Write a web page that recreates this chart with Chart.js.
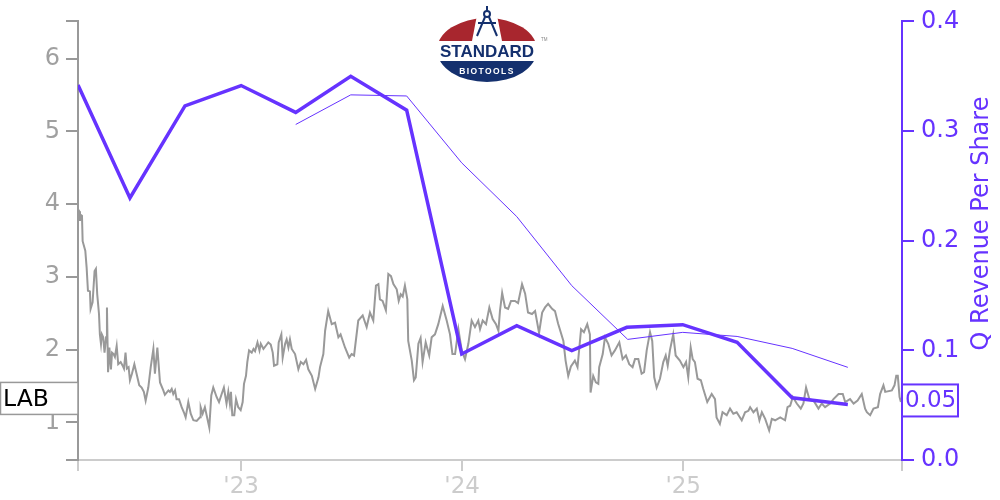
<!DOCTYPE html>
<html>
<head>
<meta charset="utf-8">
<title>LAB Q Revenue Per Share</title>
<script src="https://cdn.jsdelivr.net/npm/chart.js@4/dist/chart.umd.min.js"></script>
<style>
    html, body { margin: 0; padding: 0; background: #fff; }
    #wrap { position: relative; width: 1000px; height: 500px; overflow: hidden; }
    #logo { position: absolute; left: 0; top: 0; }
</style>
</head>
<body>
<div id="wrap">
    <canvas id="chart" width="1000" height="500"></canvas>
    <svg id="logo" width="1000" height="100" xmlns="http://www.w3.org/2000/svg">
        <defs>
            <clipPath id="topHalf"><rect x="430" y="0" width="120" height="41"/></clipPath>
            <clipPath id="bottomHalf"><rect x="430" y="61" width="120" height="30"/></clipPath>
        </defs>
        <ellipse cx="487" cy="50" rx="50" ry="32" fill="#a8262e" clip-path="url(#topHalf)"/>
        <ellipse cx="487" cy="50" rx="50" ry="32" fill="#14306e" clip-path="url(#bottomHalf)"/>
        <polygon points="477,15 472,41 502,41 497,15" fill="#fff"/>
        <g stroke="#14306e" stroke-width="2" fill="none">
            <line x1="487" y1="6" x2="487" y2="11"/>
            <circle cx="487" cy="14" r="3"/>
            <line x1="485" y1="17" x2="477" y2="36"/>
            <line x1="489" y1="17" x2="497" y2="36"/>
            <line x1="478" y1="23" x2="496" y2="23"/>
        </g>
        <text x="487" y="57" text-anchor="middle" font-family="Liberation Sans" font-weight="bold" font-size="17" fill="#14306e">STANDARD</text>
        <text x="487" y="74" text-anchor="middle" font-family="Liberation Sans" font-weight="bold" font-size="8.5" letter-spacing="1.4" fill="#fff">BIOTOOLS</text>
        <text x="541" y="41" font-family="Liberation Sans" font-size="4.5" fill="#888">TM</text>
    </svg>
</div>
<script>
// --- Data ---
const revenueYears = [2022.267, 2022.502, 2022.751, 2023.005, 2023.252, 2023.501, 2023.754, 2024.003, 2024.252, 2024.501, 2024.750, 2025.003, 2025.249, 2025.498, 2025.750];
const revenueValues = [0.342, 0.239, 0.323, 0.3415, 0.317, 0.350, 0.319, 0.0967, 0.1225, 0.0997, 0.121, 0.1234, 0.1073, 0.0567, 0.0506];

const estimateYears = [2023.252, 2023.501, 2023.754, 2024.003, 2024.252, 2024.501, 2024.754, 2025.003, 2025.249, 2025.498, 2025.750];
const estimateValues = [0.306, 0.333, 0.332, 0.271, 0.222, 0.159, 0.110, 0.1164, 0.1127, 0.1018, 0.0845];

const priceYears = [
    2022.267, 2022.273, 2022.276, 2022.280, 2022.285, 2022.288, 2022.300, 2022.306, 2022.312, 2022.321,
    2022.324, 2022.333, 2022.342, 2022.348, 2022.354, 2022.362, 2022.366, 2022.371, 2022.375, 2022.381,
    2022.387, 2022.394, 2022.398, 2022.403, 2022.409, 2022.416, 2022.421, 2022.428, 2022.434, 2022.442,
    2022.449, 2022.460, 2022.469, 2022.475, 2022.482, 2022.488, 2022.496, 2022.502, 2022.511, 2022.522,
    2022.532, 2022.544, 2022.555, 2022.565, 2022.573, 2022.585, 2022.596, 2022.608, 2022.615, 2022.626,
    2022.638, 2022.653, 2022.660, 2022.676, 2022.683, 2022.691, 2022.698, 2022.706, 2022.713, 2022.724,
    2022.736, 2022.746, 2022.754, 2022.766, 2022.777, 2022.789, 2022.804, 2022.819, 2022.822, 2022.831,
    2022.841, 2022.861, 2022.870, 2022.879, 2022.894, 2022.905, 2022.917, 2022.927, 2022.939, 2022.947,
    2022.954, 2022.959, 2022.965, 2022.974, 2022.982, 2022.992, 2023.003, 2023.012, 2023.018, 2023.027,
    2023.033, 2023.041, 2023.053, 2023.061, 2023.068, 2023.079, 2023.088, 2023.094, 2023.106, 2023.116,
    2023.128, 2023.139, 2023.148, 2023.154, 2023.169, 2023.175, 2023.187, 2023.193, 2023.204, 2023.211,
    2023.219, 2023.226, 2023.234, 2023.249, 2023.264, 2023.275, 2023.287, 2023.299, 2023.309, 2023.325,
    2023.340, 2023.355, 2023.362, 2023.377, 2023.385, 2023.399, 2023.415, 2023.430, 2023.445, 2023.455,
    2023.475, 2023.494, 2023.505, 2023.516, 2023.535, 2023.555, 2023.573, 2023.588, 2023.603, 2023.615,
    2023.626, 2023.633, 2023.645, 2023.660, 2023.671, 2023.683, 2023.694, 2023.709, 2023.718, 2023.727,
    2023.736, 2023.746, 2023.757, 2023.761, 2023.777, 2023.787, 2023.795, 2023.807, 2023.817, 2023.826,
    2023.840, 2023.856, 2023.867, 2023.882, 2023.897, 2023.917, 2023.935, 2023.950, 2023.961, 2023.973,
    2023.988, 2024.003, 2024.018, 2024.033, 2024.048, 2024.063, 2024.078, 2024.086, 2024.098, 2024.113,
    2024.128, 2024.143, 2024.158, 2024.169, 2024.176, 2024.186, 2024.199, 2024.213, 2024.226, 2024.244,
    2024.258, 2024.276, 2024.290, 2024.303, 2024.321, 2024.335, 2024.353, 2024.367, 2024.380, 2024.394,
    2024.412, 2024.425, 2024.439, 2024.463, 2024.473, 2024.485, 2024.497, 2024.515, 2024.527, 2024.543,
    2024.556, 2024.571, 2024.583, 2024.586, 2024.598, 2024.610, 2024.621, 2024.625, 2024.641, 2024.651,
    2024.666, 2024.681, 2024.696, 2024.716, 2024.731, 2024.746, 2024.761, 2024.776, 2024.787, 2024.802,
    2024.817, 2024.828, 2024.840, 2024.855, 2024.865, 2024.874, 2024.885, 2024.900, 2024.915, 2024.926,
    2024.935, 2024.945, 2024.960, 2024.971, 2024.990, 2025.006, 2025.018, 2025.028, 2025.039, 2025.048,
    2025.058, 2025.070, 2025.085, 2025.096, 2025.114, 2025.134, 2025.149, 2025.156, 2025.171, 2025.183,
    2025.202, 2025.217, 2025.232, 2025.247, 2025.270, 2025.285, 2025.300, 2025.308, 2025.323, 2025.338,
    2025.350, 2025.361, 2025.376, 2025.394, 2025.406, 2025.421, 2025.444, 2025.466, 2025.477, 2025.489,
    2025.501, 2025.519, 2025.537, 2025.549, 2025.561, 2025.576, 2025.595, 2025.617, 2025.632, 2025.647,
    2025.670, 2025.685, 2025.708, 2025.727, 2025.738, 2025.760, 2025.776, 2025.794, 2025.813, 2025.828,
    2025.836, 2025.851, 2025.866, 2025.886, 2025.896, 2025.911, 2025.919, 2025.949, 2025.961, 2025.969,
    2025.976, 2025.984, 2025.990
];
const priceValues = [
    3.93, 3.90, 3.77, 3.85, 3.84, 3.49, 3.36, 3.13, 2.81, 2.80,
    2.56, 2.65, 3.08, 3.11, 2.76, 2.49, 2.21, 2.08, 2.21, 2.17,
    1.96, 2.17, 2.58, 1.69, 2.03, 1.73, 1.96, 1.94, 1.90, 2.05,
    1.80, 1.83, 1.78, 1.74, 1.96, 1.74, 1.76, 1.58, 1.67, 1.80,
    1.67, 1.51, 1.48, 1.42, 1.30, 1.48, 1.76, 2.01, 1.67, 2.03,
    1.55, 1.44, 1.38, 1.44, 1.42, 1.46, 1.39, 1.44, 1.32, 1.32,
    1.21, 1.14, 1.07, 1.28, 1.12, 1.03, 1.02, 1.07, 1.21, 1.12,
    1.21, 0.93, 1.37, 1.48, 1.35, 1.28, 1.39, 1.48, 1.26, 1.42,
    1.26, 1.42, 1.10, 1.10, 1.32, 1.21, 1.17, 1.28, 1.53, 1.64,
    1.83, 1.99, 1.96, 2.01, 1.98, 2.10, 1.99, 2.08, 2.01, 2.05,
    2.10, 2.07, 1.96, 1.78, 1.80, 2.10, 2.21, 1.89, 2.08, 2.14,
    2.03, 2.14, 2.01, 1.94, 1.73, 1.83, 1.80, 1.86, 1.73, 1.64,
    1.46, 1.62, 1.76, 1.94, 2.26, 2.53, 2.35, 2.37, 2.17, 2.21,
    2.03, 1.89, 1.94, 1.92, 2.40, 2.47, 2.31, 2.51, 2.40, 2.88,
    2.90, 2.69, 2.67, 2.54, 3.04, 3.01, 2.90, 2.83, 2.67, 2.76,
    2.73, 2.88, 2.69, 2.12, 1.85, 1.58, 1.62, 2.08, 2.16, 1.83,
    2.10, 1.92, 2.17, 2.21, 2.35, 2.60, 2.40, 2.21, 1.94, 1.94,
    2.28, 1.99, 1.87, 2.08, 2.40, 2.31, 2.40, 2.28, 2.40, 2.35,
    2.58, 2.42, 2.35, 2.26, 2.53, 2.78, 2.58, 2.56, 2.67, 2.67,
    2.64, 2.90, 2.77, 2.51, 2.49, 2.53, 2.23, 2.51, 2.58, 2.63,
    2.56, 2.53, 2.36, 2.12, 1.85, 1.64, 1.77, 1.85, 1.76, 2.28,
    2.24, 2.35, 2.21, 1.41, 1.64, 1.55, 1.53, 1.76, 1.94, 2.17,
    2.08, 1.92, 1.99, 2.10, 1.87, 1.92, 1.80, 1.76, 1.87, 1.87,
    1.67, 1.69, 1.99, 2.24, 2.12, 1.62, 1.48, 1.60, 1.83, 1.92,
    1.78, 1.99, 2.21, 1.92, 1.85, 1.76, 1.83, 1.62, 2.03, 1.87,
    1.83, 1.60, 1.58, 1.46, 1.28, 1.39, 1.32, 1.07, 0.98, 1.14,
    1.10, 1.19, 1.12, 1.14, 1.03, 1.14, 1.16, 1.21, 1.14, 1.19,
    1.03, 1.14, 1.05, 0.89, 1.05, 1.03, 1.07, 1.03, 1.21, 1.23,
    1.35, 1.26, 1.19, 1.26, 1.48, 1.32, 1.30, 1.19, 1.26, 1.21,
    1.26, 1.32, 1.39, 1.39, 1.28, 1.32, 1.26, 1.30, 1.39, 1.19,
    1.14, 1.10, 1.19, 1.21, 1.39, 1.51, 1.42, 1.44, 1.51, 1.64,
    1.64, 1.35, 1.28
];

const priceTicks = [0.484, 1, 2, 3, 4, 5, 6, 6.51];
const priceTickLabels = ['', '1', '2', '3', '4', '5', '6', ''];
const yearTicks = [2022.267, 2023.005, 2024.005, 2025.005, 2025.995];
const yearTickLabels = ['', "'23", "'24", "'25", ''];

const ticker = 'LAB';
const tickerLevel = 1.33;
const lastRevenueText = '0.05';
const lastRevenueLevel = 0.0543;
const rightTitle = 'Q Revenue Per Share';

const PURPLE = '#6633ff';
const FONT = '"DejaVu Sans"';

function pairs(xs, ys) {
    return xs.map((x, i) => ({ x: x, y: ys[i] }));
}

// Fixes a scale's thickness so the plot area lands where it should
function fixWidth(px) {
    return scale => { scale.width = px; };
}

// Boxed labels and the rotated right title
const annotations = {
    id: 'annotations',
    afterDraw(chart) {
        const ctx = chart.ctx;
        const left = chart.scales.price;
        const right = chart.scales.revenue;
        const area = chart.chartArea;

        // ticker box
        const y1 = left.getPixelForValue(tickerLevel);
        ctx.save();
        ctx.fillStyle = '#fff';
        ctx.strokeStyle = '#999';
        ctx.lineWidth = 1.5;
        ctx.fillRect(0.5, y1 - 16, area.left - 0.5, 32);
        ctx.strokeRect(0.5, y1 - 16, area.left - 0.5, 32);
        ctx.fillStyle = '#000';
        ctx.font = '23.5px ' + FONT;
        ctx.textAlign = 'left';
        ctx.textBaseline = 'middle';
        ctx.fillText(ticker, 3, y1 + 1);

        // last value box
        const y2 = right.getPixelForValue(lastRevenueLevel);
        ctx.fillStyle = '#fff';
        ctx.strokeStyle = PURPLE;
        ctx.lineWidth = 2;
        ctx.fillRect(area.right, y2 - 16, 56, 32);
        ctx.strokeRect(area.right, y2 - 16, 56, 32);
        ctx.fillStyle = PURPLE;
        ctx.font = '23px ' + FONT;
        ctx.fillText(lastRevenueText, area.right + 3, y2 + 1);

        // right axis title, reads bottom to top
        ctx.translate(982, 223.5);
        ctx.rotate(-Math.PI / 2);
        ctx.textAlign = 'center';
        ctx.font = '24px ' + FONT;
        ctx.fillText(rightTitle, 0, 0);
        ctx.restore();
    }
};

new Chart(document.getElementById('chart').getContext('2d'), {
    type: 'line',
    data: {
        datasets: [
            {
                data: pairs(revenueYears, revenueValues),
                yAxisID: 'revenue',
                borderColor: PURPLE,
                borderWidth: 3.5,
                pointRadius: 0,
                tension: 0,
                order: 1
            },
            {
                data: pairs(estimateYears, estimateValues),
                yAxisID: 'revenue',
                borderColor: PURPLE,
                borderWidth: 1,
                pointRadius: 0,
                tension: 0,
                order: 2
            },
            {
                data: pairs(priceYears, priceValues),
                yAxisID: 'price',
                borderColor: '#999',
                borderWidth: 2,
                pointRadius: 0,
                tension: 0,
                order: 3
            }
        ]
    },
    options: {
        responsive: false,
        animation: false,
        layout: { padding: { top: 20 } },
        plugins: {
            legend: { display: false },
            tooltip: { enabled: false }
        },
        scales: {
            x: {
                type: 'linear',
                min: yearTicks[0],
                max: yearTicks[yearTicks.length - 1],
                afterBuildTicks: scale => { scale.ticks = yearTicks.map(v => ({ value: v })); },
                afterFit: scale => { scale.height = 40; },
                border: { color: '#ccc', width: 2 },
                grid: { drawOnChartArea: false, color: '#ccc', tickLength: 11, lineWidth: 2 },
                ticks: {
                    color: '#ccc',
                    font: { family: FONT, size: 23 },
                    maxRotation: 0,
                    padding: 2,
                    autoSkip: false,
                    callback: (v, i) => yearTickLabels[i]
                }
            },
            price: {
                type: 'linear',
                position: 'left',
                min: priceTicks[0],
                max: priceTicks[priceTicks.length - 1],
                afterBuildTicks: scale => { scale.ticks = priceTicks.map(v => ({ value: v })); },
                afterFit: fixWidth(78),
                border: { color: '#999', width: 2 },
                grid: { drawOnChartArea: false, color: '#999', tickLength: 12, lineWidth: 2 },
                ticks: {
                    color: '#a0a0a0',
                    font: { family: FONT, size: 24 },
                    padding: 6,
                    autoSkip: false,
                    callback: (v, i) => priceTickLabels[i]
                }
            },
            revenue: {
                type: 'linear',
                position: 'right',
                min: 0,
                max: 0.4,
                afterFit: fixWidth(98),
                border: { color: PURPLE, width: 2 },
                grid: { drawOnChartArea: false, color: PURPLE, tickLength: 12, lineWidth: 2 },
                ticks: {
                    stepSize: 0.1,
                    color: PURPLE,
                    font: { family: FONT, size: 24 },
                    padding: 7,
                    callback: v => v.toFixed(1)
                }
            }
        }
    },
    plugins: [annotations]
});
</script>
</body>
</html>
